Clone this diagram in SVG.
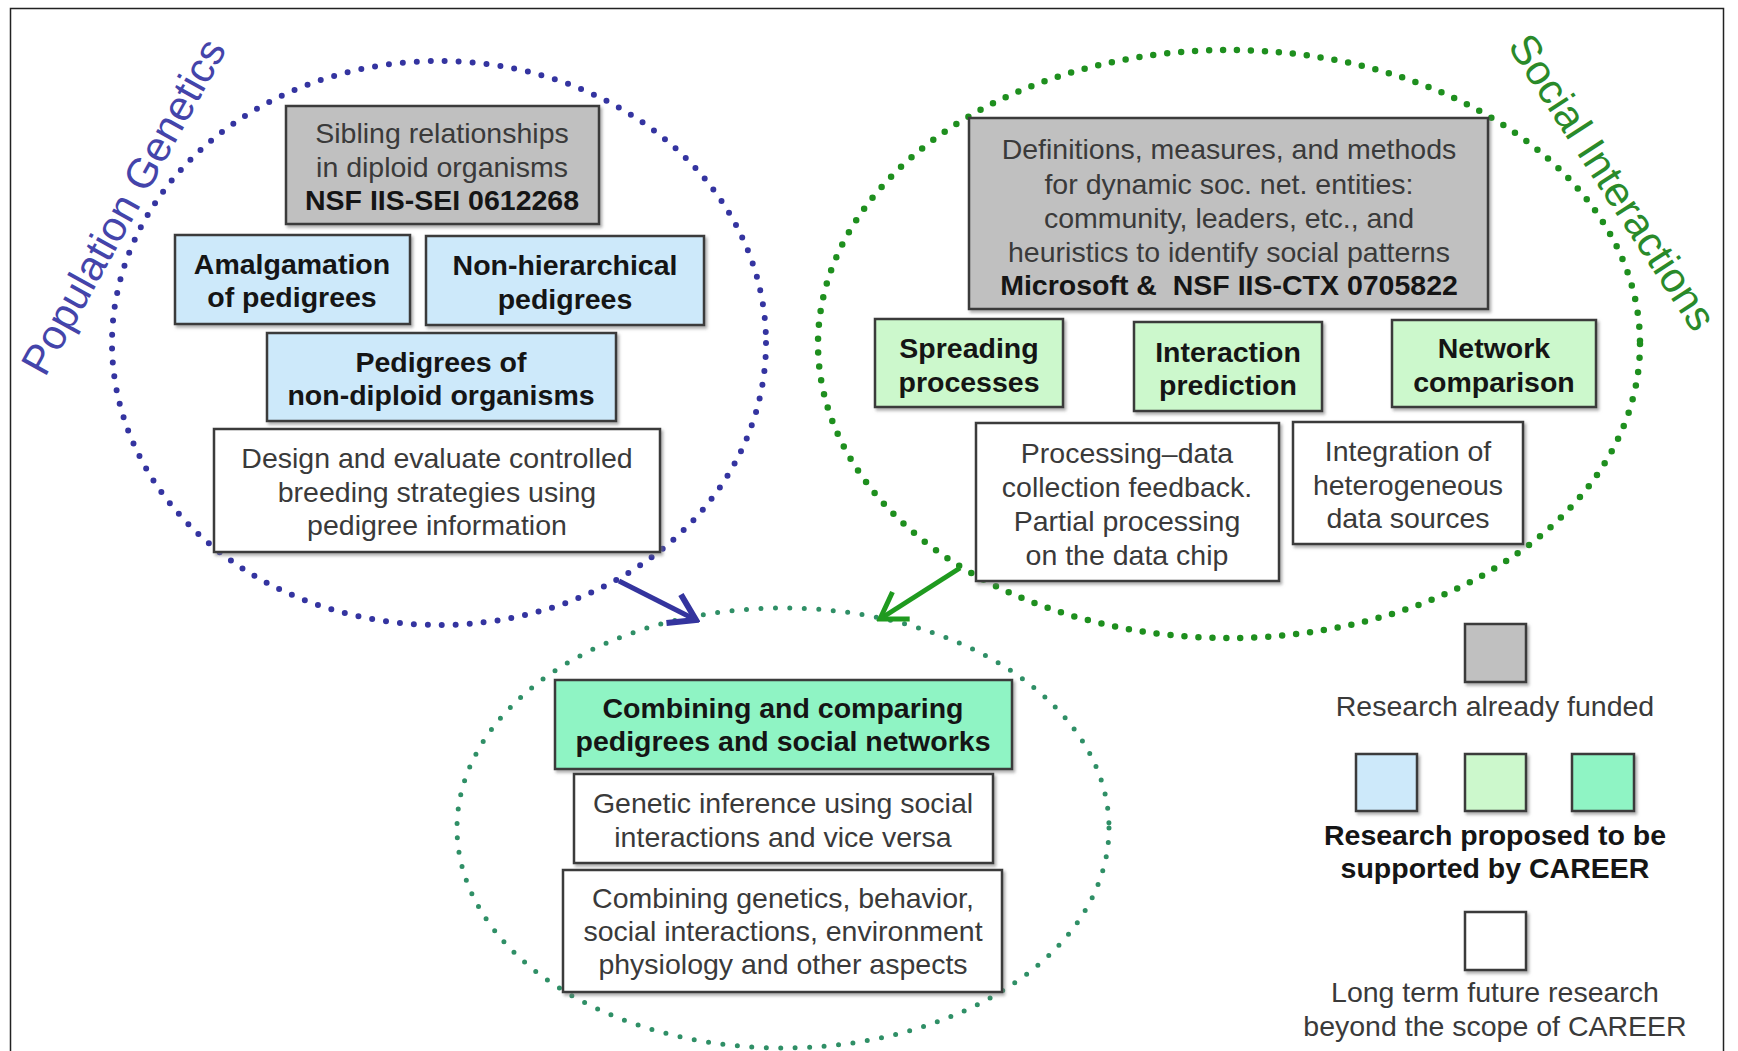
<svg xmlns="http://www.w3.org/2000/svg" width="1738" height="1051" viewBox="0 0 1738 1051">
<defs>
<style>
.t{font-family:"Liberation Sans",Arial,sans-serif;font-size:28.5px;fill:#3a3a3a;text-anchor:middle}
.b{font-weight:bold;fill:#151515}
.box{stroke:#3a3a3a;stroke-width:2.5;filter:url(#sh)}
.gray{fill:#c0c0c0}
.blue{fill:#cde9fa}
.lgreen{fill:#ccf8cc}
.teal{fill:#8ff4c4}
.white{fill:#ffffff}
.ring{fill:none;stroke-linecap:round}
.title{font-family:"Liberation Sans",Arial,sans-serif;font-size:42px}
</style>
<filter id="sh" x="-10%" y="-10%" width="120%" height="130%">
<feDropShadow dx="2" dy="2.5" stdDeviation="1.5" flood-color="#777" flood-opacity="0.6"/>
</filter>
<marker id="ab" markerUnits="userSpaceOnUse" viewBox="-32 -22 36 44" refX="0" refY="0" markerWidth="36" markerHeight="44" orient="auto">
<path d="M-25,-16 L0,0 L-25,16" fill="none" stroke="#34349e" stroke-width="6"/>
</marker>
<marker id="ag" markerUnits="userSpaceOnUse" viewBox="-32 -22 36 44" refX="0" refY="0" markerWidth="36" markerHeight="44" orient="auto">
<path d="M-25,-16 L0,0 L-25,16" fill="none" stroke="#1f9a1f" stroke-width="5"/>
</marker>
</defs>
<rect x="0" y="0" width="1738" height="1051" fill="#ffffff"/>
<rect x="10.5" y="8.5" width="1713" height="1060" fill="#ffffff" stroke="#222" stroke-width="1.5"/>

<g id="regions">
<ellipse id="pop-gen-ring" class="ring" cx="439" cy="343" rx="327" ry="282" stroke="#3434a0" stroke-width="6" stroke-dasharray="0 14"/>
<ellipse id="social-ring" class="ring" cx="1229" cy="344" rx="411" ry="294" stroke="#1e8f1e" stroke-width="6.5" stroke-dasharray="0 14"/>
<ellipse id="combined-ring" class="ring" cx="783" cy="828" rx="326" ry="220" stroke="#2f8f66" stroke-width="5" stroke-dasharray="0 14.5"/>
<text class="title" fill="#4444aa" transform="translate(45,378) rotate(-61)">Population Genetics</text>
<text class="title" fill="#2a8a2a" transform="translate(1507,46) rotate(57)">Social Interactions</text>
</g>

<g id="connectors">
<line x1="619" y1="581" x2="696" y2="620" stroke="#34349e" stroke-width="5" marker-end="url(#ab)"/>
<line x1="960" y1="568" x2="880" y2="619" stroke="#1f9a1f" stroke-width="5" marker-end="url(#ag)"/>
</g>

<g id="n-sibling">
<rect class="box gray" x="286" y="106" width="313" height="118"/>
<text class="t" x="442" y="143">Sibling relationships</text>
<text class="t" x="442" y="177">in diploid organisms</text>
<text class="t b" x="442" y="210">NSF IIS-SEI 0612268</text>
</g>
<g id="n-amalgamation">
<rect class="box blue" x="175" y="235" width="235" height="89"/>
<text class="t b" x="292" y="274">Amalgamation</text>
<text class="t b" x="292" y="307">of pedigrees</text>
</g>
<g id="n-nonhier">
<rect class="box blue" x="426" y="236" width="278" height="89"/>
<text class="t b" x="565" y="275">Non-hierarchical</text>
<text class="t b" x="565" y="309">pedigrees</text>
</g>
<g id="n-nondiploid">
<rect class="box blue" x="267" y="333" width="349" height="88"/>
<text class="t b" x="441" y="372">Pedigrees of</text>
<text class="t b" x="441" y="405">non-diploid organisms</text>
</g>
<g id="n-design">
<rect class="box white" x="214" y="429" width="446" height="123"/>
<text class="t" x="437" y="468">Design and evaluate controlled</text>
<text class="t" x="437" y="502">breeding strategies using</text>
<text class="t" x="437" y="535">pedigree information</text>
</g>

<g id="n-definitions">
<rect class="box gray" x="969" y="118" width="519" height="191"/>
<text class="t" x="1229" y="159">Definitions, measures, and methods</text>
<text class="t" x="1229" y="194">for dynamic soc. net. entities:</text>
<text class="t" x="1229" y="228">community, leaders, etc., and</text>
<text class="t" x="1229" y="262">heuristics to identify social patterns</text>
<text class="t b" x="1229" y="295" xml:space="preserve">Microsoft &amp;  NSF IIS-CTX 0705822</text>
</g>
<g id="n-spreading">
<rect class="box lgreen" x="875" y="319" width="188" height="88"/>
<text class="t b" x="969" y="358">Spreading</text>
<text class="t b" x="969" y="392">processes</text>
</g>
<g id="n-interaction">
<rect class="box lgreen" x="1134" y="322" width="188" height="89"/>
<text class="t b" x="1228" y="362">Interaction</text>
<text class="t b" x="1228" y="395">prediction</text>
</g>
<g id="n-network">
<rect class="box lgreen" x="1392" y="320" width="204" height="87"/>
<text class="t b" x="1494" y="358">Network</text>
<text class="t b" x="1494" y="392">comparison</text>
</g>
<g id="n-processing">
<rect class="box white" x="976" y="423" width="303" height="158"/>
<text class="t" x="1127" y="463">Processing–data</text>
<text class="t" x="1127" y="497">collection feedback.</text>
<text class="t" x="1127" y="531">Partial processing</text>
<text class="t" x="1127" y="565">on the data chip</text>
</g>
<g id="n-integration">
<rect class="box white" x="1293" y="422" width="230" height="122"/>
<text class="t" x="1408" y="461">Integration of</text>
<text class="t" x="1408" y="495">heterogeneous</text>
<text class="t" x="1408" y="528">data sources</text>
</g>

<g id="n-combining">
<rect class="box teal" x="555" y="680" width="457" height="89"/>
<text class="t b" x="783" y="718">Combining and comparing</text>
<text class="t b" x="783" y="751">pedigrees and social networks</text>
</g>
<g id="n-genetic">
<rect class="box white" x="574" y="774" width="419" height="89"/>
<text class="t" x="783" y="813">Genetic inference using social</text>
<text class="t" x="783" y="847">interactions and vice versa</text>
</g>
<g id="n-combgen">
<rect class="box white" x="563" y="870" width="439" height="122"/>
<text class="t" x="783" y="908">Combining genetics, behavior,</text>
<text class="t" x="783" y="941">social interactions, environment</text>
<text class="t" x="783" y="974">physiology and other aspects</text>
</g>

<g id="legend">
<rect class="box gray" x="1465" y="624" width="61" height="58"/>
<text class="t" x="1495" y="716">Research already funded</text>
<rect class="box blue" x="1356" y="754" width="61" height="57"/>
<rect class="box lgreen" x="1465" y="754" width="61" height="57"/>
<rect class="box teal" x="1572" y="754" width="62" height="57"/>
<text class="t b" x="1495" y="845">Research proposed to be</text>
<text class="t b" x="1495" y="878">supported by CAREER</text>
<rect class="box white" x="1465" y="912" width="61" height="58"/>
<text class="t" x="1495" y="1002">Long term future research</text>
<text class="t" x="1495" y="1036">beyond the scope of CAREER</text>
</g>
</svg>
